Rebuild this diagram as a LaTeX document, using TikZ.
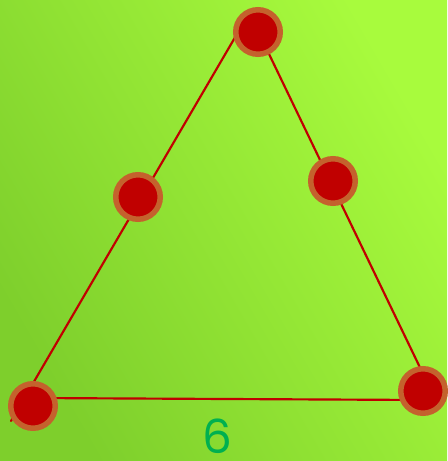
\documentclass[tikz,border=0pt]{standalone}
\usepackage{fontspec}
\setmainfont{Poppins}
\definecolor{bgdark}{HTML}{7ECF2C}
\definecolor{bglight}{HTML}{A8FB3D}
\definecolor{edgered}{HTML}{C00000}
\definecolor{ringbrown}{HTML}{C4622D}
\definecolor{digitgreen}{HTML}{00B050}
\tikzset{
  dot/.style={circle, draw=ringbrown, fill=edgered, line width=5.5*0.03cm, minimum size=44.5*0.03cm, inner sep=0pt},
  side/.style={edgered, line width=0.065cm, line cap=round}
}
\begin{document}
\begin{tikzpicture}[x=0.03cm, y=-0.03cm]
\useasboundingbox (0,0) rectangle (447,461);
\shade[top color=bglight, bottom color=bgdark, shading angle=-60] (0,0) rectangle (447,461);

\coordinate (la) at (11,421);
\coordinate (lb) at (251,10);
\coordinate (ra) at (256,27);
\coordinate (rb) at (439,407);
\coordinate (ba) at (33,398);
\coordinate (bb) at (423,400);

\draw[side] (la) -- (lb);
\draw[side] (ra) -- (rb);
\draw[side] (ba) -- (bb);

\node[dot] (top) at (258,32) {};
\node[dot] (left) at (138,197) {};
\node[dot] (right) at (333,181) {};
\node[dot] (bl) at (33,406) {};
\node[dot] (br) at (423,391) {};

\node[text=digitgreen, inner sep=0pt, font=\fontsize{40}{40}\selectfont] (n) at (217,436) {6};
\end{tikzpicture}
\end{document}
